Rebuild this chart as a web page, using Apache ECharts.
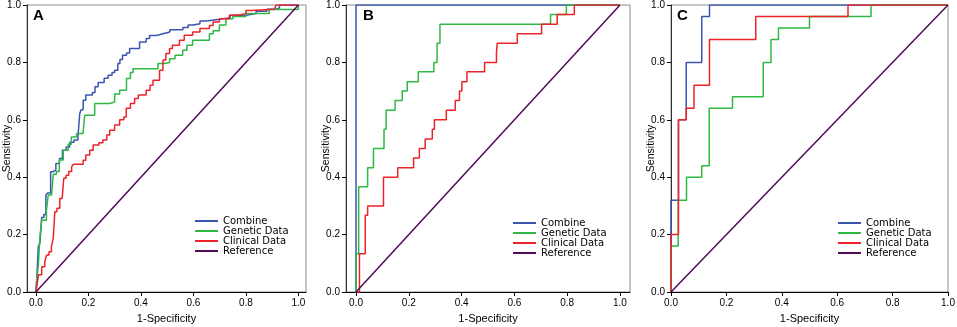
<!DOCTYPE html>
<html>
<head>
<meta charset="utf-8">
<script src="https://cdn.jsdelivr.net/npm/echarts@6/dist/echarts.min.js"></script>
<style>
  html, body { margin: 0; padding: 0; background: #fff; }
  #chart { width: 957px; height: 327px; }
</style>
</head>
<body>
<div id="chart"></div>
<script>
// ROC points: [1-specificity, sensitivity], each point is the top of a vertical step
const panelLabels = ['A', 'B', 'C'];
const seriesNames = ['Combine', 'Genetic Data', 'Clinical Data', 'Reference'];
const tickValues = [0, 0.2, 0.4, 0.6, 0.8, 1.0];

const combineA = [[0,0],[0.003,0.04],[0.009,0.158],[0.015,0.17],[0.022,0.26],[0.03,0.27],[0.038,0.338],[0.045,0.345],[0.056,0.419],[0.065,0.425],[0.076,0.448],[0.09,0.465],[0.101,0.494],[0.115,0.505],[0.129,0.522],[0.145,0.53],[0.16,0.54],[0.167,0.622],[0.172,0.635],[0.18,0.668],[0.19,0.686],[0.215,0.695],[0.225,0.715],[0.237,0.73],[0.26,0.745],[0.275,0.755],[0.29,0.765],[0.3,0.773],[0.312,0.796],[0.32,0.81],[0.33,0.825],[0.345,0.833],[0.357,0.848],[0.395,0.871],[0.42,0.883],[0.433,0.894],[0.46,0.9],[0.484,0.906],[0.51,0.914],[0.56,0.922],[0.58,0.93],[0.598,0.935],[0.625,0.944],[0.649,0.95],[0.70,0.956],[0.74,0.964],[0.80,0.97],[0.839,0.978],[0.88,0.985],[0.915,0.99],[0.928,1],[1,1]];
const geneticA = [[0,0],[0.003,0.04],[0.009,0.088],[0.015,0.19],[0.022,0.25],[0.04,0.285],[0.047,0.338],[0.06,0.345],[0.066,0.41],[0.078,0.42],[0.089,0.46],[0.104,0.494],[0.123,0.515],[0.135,0.54],[0.155,0.552],[0.18,0.56],[0.186,0.616],[0.224,0.657],[0.281,0.662],[0.3,0.69],[0.319,0.703],[0.345,0.744],[0.36,0.765],[0.37,0.778],[0.465,0.796],[0.49,0.8],[0.509,0.813],[0.53,0.825],[0.559,0.842],[0.575,0.86],[0.597,0.877],[0.661,0.9],[0.675,0.91],[0.699,0.93],[0.724,0.952],[0.75,0.96],[0.8,0.97],[0.889,0.984],[0.985,0.984],[1,1]];
const clinicalA = [[0,0],[0.005,0.03],[0.01,0.06],[0.022,0.088],[0.034,0.107],[0.041,0.129],[0.05,0.14],[0.059,0.158],[0.066,0.187],[0.072,0.28],[0.08,0.292],[0.091,0.326],[0.1,0.33],[0.106,0.396],[0.115,0.407],[0.125,0.42],[0.136,0.436],[0.142,0.445],[0.18,0.459],[0.19,0.477],[0.205,0.494],[0.218,0.512],[0.24,0.52],[0.255,0.53],[0.27,0.547],[0.281,0.564],[0.3,0.582],[0.319,0.6],[0.335,0.61],[0.344,0.64],[0.36,0.657],[0.376,0.674],[0.39,0.686],[0.42,0.703],[0.435,0.72],[0.446,0.738],[0.471,0.773],[0.484,0.808],[0.495,0.831],[0.509,0.848],[0.52,0.86],[0.547,0.877],[0.565,0.895],[0.597,0.906],[0.625,0.918],[0.661,0.929],[0.675,0.941],[0.699,0.952],[0.737,0.964],[0.77,0.97],[0.8,0.981],[0.82,0.985],[0.909,0.99],[0.915,1],[1,1]];

const combineB = [[0,0],[0,1],[1,1]];
const geneticB = [[0,0],[0,0.133],[0.01,0.367],[0.044,0.433],[0.066,0.5],[0.106,0.567],[0.114,0.633],[0.148,0.667],[0.175,0.7],[0.194,0.733],[0.236,0.767],[0.295,0.8],[0.307,0.867],[0.318,0.933],[0.737,0.967],[0.797,1],[1,1]];
const clinicalB = [[0,0],[0.013,0.133],[0.035,0.267],[0.044,0.3],[0.104,0.4],[0.158,0.433],[0.218,0.467],[0.24,0.5],[0.262,0.533],[0.289,0.567],[0.297,0.6],[0.342,0.633],[0.376,0.667],[0.392,0.7],[0.401,0.733],[0.42,0.767],[0.487,0.8],[0.532,0.833],[0.535,0.867],[0.611,0.9],[0.703,0.933],[0.762,0.967],[0.827,1],[1,1]];

const combineC = [[0,0],[0,0.32],[0.027,0.6],[0.055,0.8],[0.111,0.96],[0.139,1],[1,1]];
const geneticC = [[0,0],[0,0.16],[0.026,0.32],[0.056,0.4],[0.111,0.44],[0.138,0.64],[0.222,0.68],[0.333,0.8],[0.361,0.88],[0.388,0.92],[0.5,0.96],[0.722,1],[1,1]];
const clinicalC = [[0,0],[0,0.2],[0.027,0.6],[0.055,0.64],[0.083,0.72],[0.139,0.88],[0.306,0.96],[0.639,1],[1,1]];

const reference = [[0,0],[1,1]];

const colors = ['#3b55b0', '#2fb844', '#ec2328', '#4f0b58'];

// panel layout (pixels)
const panels = [
  { left: 27,  width: 279, xMin: -0.034, xMax: 1.029, legendLeft: 195, legendTop: 216, titleLeft: 33,
    data: [combineA, geneticA, clinicalA, reference] },
  { left: 346, width: 284, xMin: -0.038, xMax: 1.038, legendLeft: 513, legendTop: 218, titleLeft: 363,
    data: [combineB, geneticB, clinicalB, reference] },
  { left: 671, width: 277, xMin: 0, xMax: 1, legendLeft: 838, legendTop: 218, titleLeft: 677,
    data: [combineC, geneticC, clinicalC, reference] }
];

const chart = echarts.init(document.getElementById('chart'));

const tickFont = { fontFamily: 'Liberation Sans', fontSize: 10, color: '#000' };
const nameFont = { fontFamily: 'Liberation Sans', fontSize: 10.5, color: '#000' };

const series = [];
panels.forEach((p, i) => {
  p.data.forEach((d, k) => {
    series.push({
      name: seriesNames[k],
      type: 'line',
      xAxisIndex: i,
      yAxisIndex: i,
      data: d,
      step: k < 3 ? 'end' : false,
      symbol: 'none',
      animation: false,
      lineStyle: { color: colors[k], width: 1.5 },
      itemStyle: { color: colors[k] }
    });
  });
});

const option = {
  backgroundColor: '#fff',
  animation: false,
  title: panels.map((p, i) => ({
    text: panelLabels[i],
    left: p.titleLeft,
    top: 8,
    padding: 0,
    textStyle: { fontFamily: 'Liberation Sans', fontSize: 15, fontWeight: 'bold', color: '#000' }
  })),
  legend: panels.map(p => ({
    data: seriesNames,
    orient: 'vertical',
    left: p.legendLeft,
    top: p.legendTop,
    padding: 0,
    icon: 'rect',
    itemWidth: 23,
    itemHeight: 2,
    itemGap: 0,
    selectedMode: false,
    textStyle: { fontFamily: 'DejaVu Sans', fontSize: 10, lineHeight: 9, color: '#000' }
  })),
  grid: panels.map(p => ({
    left: p.left,
    width: p.width,
    top: 5,
    bottom: 35,
    outerBoundsMode: 'none',
    containLabel: false,
    show: true,
    borderColor: '#8c8c8c',
    borderWidth: 1,
    backgroundColor: 'transparent'
  })),
  xAxis: panels.map((p, i) => ({
    gridIndex: i,
    type: 'value',
    min: p.xMin,
    max: p.xMax,
    name: '1-Specificity',
    nameLocation: 'middle',
    nameGap: 21,
    nameMoveOverlap: false,
    nameTextStyle: Object.assign({}, nameFont, { fontSize: 11 }),
    axisLine: { show: true, onZero: false, lineStyle: { color: '#000', width: 1 } },
    axisTick: { show: true, length: 4, customValues: tickValues, lineStyle: { color: '#000' } },
    axisLabel: Object.assign({ customValues: tickValues, margin: 6, formatter: v => v.toFixed(1) }, tickFont),
    splitLine: { show: false }
  })),
  yAxis: panels.map((p, i) => ({
    gridIndex: i,
    type: 'value',
    min: 0,
    max: 1,
    interval: 0.2,
    name: 'Sensitivity',
    nameLocation: 'middle',
    nameGap: 14,
    nameMoveOverlap: false,
    nameTextStyle: nameFont,
    axisLine: { show: true, onZero: false, lineStyle: { color: '#333', width: 1 } },
    axisTick: { show: true, length: 4, lineStyle: { color: '#000' } },
    axisLabel: Object.assign({ margin: 6, formatter: v => v.toFixed(1) }, tickFont),
    splitLine: { show: false }
  })),
  series: series
};

chart.setOption(option);
</script>
</body>
</html>
